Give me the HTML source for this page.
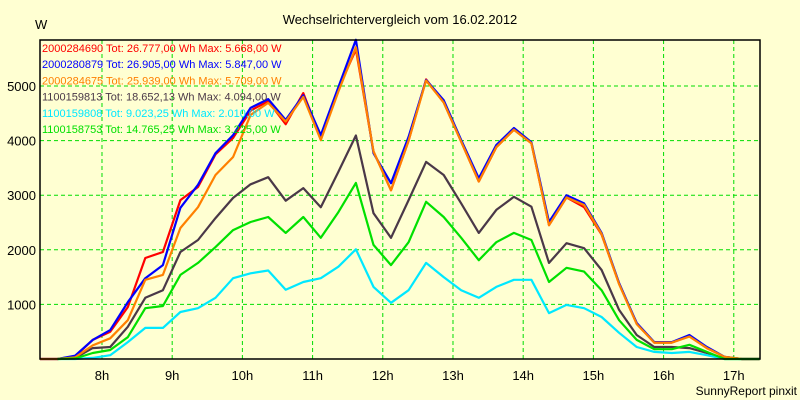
<!DOCTYPE html>
<html><head><meta charset="utf-8"><style>
html,body{margin:0;padding:0;background:#ffffd2;}
svg{display:block;font-family:"Liberation Sans",sans-serif;}
</style></head><body>
<svg id="chart" width="800" height="400" viewBox="0 0 800 400">
<rect x="0" y="0" width="800" height="400" fill="#ffffd2"/>
<text x="400" y="24" text-anchor="middle" font-size="13" fill="#000">Wechselrichtervergleich vom 16.02.2012</text>
<text x="35" y="29" font-size="13" fill="#000">W</text>
<text x="797" y="395" text-anchor="end" font-size="12" fill="#000">SunnyReport pinxit</text>
<g id="grid"></g>
<g id="series"></g>
<g id="axes"></g>
<g id="legend"></g>
</svg>
<script>
const xTickLabels = ["8h","9h","10h","11h","12h","13h","14h","15h","16h","17h"];
const xTickHours = [8,9,10,11,12,13,14,15,16,17];
const yTickValues = [1000,2000,3000,4000,5000];
const seriesNames = ["2000284690","2000280879","2000284675","1100159813","1100159808","1100158753"];
const seriesTot = ["26.777,00","26.905,00","25.939,00","18.652,13","9.023,25","14.765,25"];
const seriesMax = ["5.668,00","5.847,00","5.709,00","4.094,00","2.010,00","3.225,00"];
const red = [0,0,50,350,500,950,1850,1960,2910,3150,3750,4050,4550,4720,4300,4870,4050,4950,5668,3800,3090,4000,5120,4700,3980,3250,3880,4200,3950,2450,2960,2780,2280,1380,650,300,300,420,200,40,0,0];
const blue = [0,0,60,350,530,1040,1480,1720,2770,3190,3770,4100,4600,4760,4380,4830,4100,4980,5847,3770,3220,4070,5110,4740,4010,3310,3920,4230,3970,2510,3000,2850,2310,1390,660,310,310,440,220,40,0,0];
const orange = [0,0,30,250,380,710,1450,1540,2400,2780,3370,3700,4470,4690,4350,4800,4010,4900,5709,3800,3090,4000,5100,4700,3980,3250,3880,4200,3950,2450,2960,2820,2290,1370,640,300,300,410,200,40,0,0];
const dark = [null,0,20,200,220,590,1120,1260,1960,2180,2580,2950,3200,3330,2900,3130,2780,3430,4094,2670,2220,2910,3610,3370,2850,2310,2730,2970,2790,1760,2120,2030,1630,900,440,220,220,200,110,10,0,0];
const cyan = [null,0,0,20,70,310,570,570,860,930,1120,1480,1570,1620,1270,1410,1480,1690,2010,1320,1030,1260,1760,1500,1260,1120,1320,1450,1450,840,990,930,770,480,220,130,110,130,70,0,0,0];
const green = [null,0,10,110,165,400,930,970,1540,1760,2050,2360,2510,2600,2310,2600,2220,2690,3225,2090,1720,2140,2880,2600,2220,1810,2140,2310,2180,1410,1670,1600,1260,710,350,180,180,260,130,0,0,0];

const NS="http://www.w3.org/2000/svg";
const L=40,R=760,T=40,B=359;
const startHour=7.117, hourPx=70.2, stepHours=0.25;
function xHour(h){return L+(h-startHour)*hourPx;}
function xIdx(i){return xHour(startHour+i*stepHours);}
function yVal(v){return B-v*0.0546;}
function mk(tag,attrs,parent){const e=document.createElementNS(NS,tag);for(const k in attrs)e.setAttribute(k,attrs[k]);parent.appendChild(e);return e;}

const grid=document.getElementById('grid');
xTickHours.forEach((h,i)=>{
  const l=mk('line',{x1:xHour(h),x2:xHour(h),y1:T,y2:B,stroke:'#00dd00','stroke-dasharray':'4,3','stroke-width':1},grid);
  
  
  const t=mk('text',{x:xHour(h),y:B+21,'text-anchor':'middle','font-size':13,fill:'#000'},grid);
  t.textContent=xTickLabels[i];
  
  
});
yTickValues.forEach(v=>{
  const l=mk('line',{x1:L,x2:R,y1:yVal(v),y2:yVal(v),stroke:'#00dd00','stroke-dasharray':'4,3','stroke-width':1},grid);
  
  
  const t=mk('text',{x:36,y:yVal(v)+5,'text-anchor':'end','font-size':13,fill:'#000'},grid);
  t.textContent=String(v);
  
  
});

const axes=document.getElementById('axes');
const frame=mk('rect',{x:L,y:T,width:R-L,height:B-T,fill:'none',stroke:'#000','stroke-width':1.5},axes);



const seriesData=[dark,cyan,red,blue,orange,green];
const seriesColors=['#4a3848','#00e8ff','#ff0000','#0000ff','#ff8000','#00e000'];
const seriesKeys=['series-1100159813','series-1100159808','series-2000284690','series-2000280879','series-2000284675','series-1100158753'];
const sg=document.getElementById('series');
seriesData.forEach((arr,si)=>{
  let d='';let started=false;
  arr.forEach((v,i)=>{ if(v===null)return; d+=(started?'L':'M')+xIdx(i).toFixed(1)+','+yVal(v).toFixed(1); started=true;});
  const p=mk('path',{d:d,fill:'none',stroke:seriesColors[si],'stroke-width':2.2,'stroke-linejoin':'round'},sg);
  
  
});

const legendColors=['#ff0000','#0000ff','#ff8000','#4a3848','#00e8ff','#00e000'];
const lg=document.getElementById('legend');
seriesNames.forEach((n,i)=>{
  const t=mk('text',{x:42,y:52+i*16.2,'font-size':11,fill:legendColors[i]},lg);
  t.textContent=n+' Tot: '+seriesTot[i]+' Wh Max: '+seriesMax[i]+' W';
  
  
});
</script>
</body></html>
